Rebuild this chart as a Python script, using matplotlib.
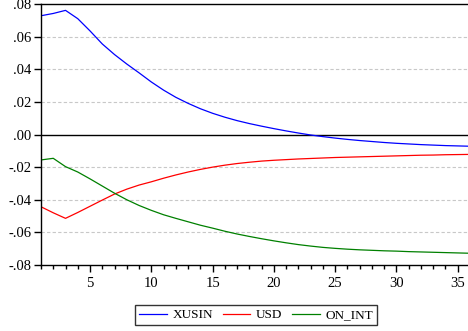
import numpy as np
import matplotlib
matplotlib.use("Agg")
import matplotlib.pyplot as plt
from matplotlib.ticker import FuncFormatter, MultipleLocator

# Impulse responses over 36 periods
periods = np.arange(1, 37)

xusin = [0.0728, 0.0742, 0.0761, 0.0710, 0.0635, 0.0555, 0.0490, 0.0432,
         0.0378, 0.0322, 0.0272, 0.0228, 0.0191, 0.0158, 0.0130, 0.0106,
         0.0085, 0.0067, 0.0051, 0.0036, 0.0022, 0.0009, -0.0003, -0.0013,
         -0.0022, -0.0030, -0.0037, -0.0043, -0.0049, -0.0054, -0.0058,
         -0.0062, -0.0065, -0.0068, -0.0070, -0.0072]

usd = [-0.0443, -0.0480, -0.0514, -0.0478, -0.0440, -0.0402, -0.0365,
       -0.0335, -0.0310, -0.0290, -0.0268, -0.0248, -0.0230, -0.0214,
       -0.0200, -0.0188, -0.0178, -0.0170, -0.0163, -0.0158, -0.0154,
       -0.0150, -0.0147, -0.0144, -0.0141, -0.0139, -0.0137, -0.0135,
       -0.0133, -0.0131, -0.0129, -0.0127, -0.0126, -0.0124, -0.0123,
       -0.0122]

on_int = [-0.0156, -0.0146, -0.0197, -0.0230, -0.0272, -0.0316, -0.0360,
          -0.0400, -0.0435, -0.0465, -0.0492, -0.0514, -0.0535, -0.0556,
          -0.0574, -0.0593, -0.0610, -0.0625, -0.0639, -0.0652, -0.0664,
          -0.0675, -0.0684, -0.0692, -0.0698, -0.0703, -0.0707, -0.0710,
          -0.0713, -0.0715, -0.0718, -0.0720, -0.0722, -0.0724, -0.0726,
          -0.0728]

series = [("XUSIN", xusin, "#0000ff"),
          ("USD", usd, "#ff0000"),
          ("ON_INT", on_int, "#008000")]

plt.rcParams["font.family"] = ["Liberation Serif", "DejaVu Serif"]

W, H = 468, 331
fig = plt.figure(figsize=(W / 100, H / 100), dpi=100)
ax = fig.add_axes([41 / W, (H - 265) / H, (470 - 41) / W, (265 - 4) / H])

for name, vals, color in series:
    ax.plot(periods, vals, color=color, lw=0.9, label=name)

ax.set_xlim(1, 36)
ax.set_ylim(-0.08, 0.08)
ax.yaxis.set_major_locator(MultipleLocator(0.02))
ax.xaxis.set_major_locator(MultipleLocator(5))
ax.xaxis.set_minor_locator(MultipleLocator(1))


def strip_zero(v, pos):
    s = f"{v:.2f}"
    if abs(v) < 1e-9:
        return ".00"
    return s.replace("0.", ".", 1)


ax.yaxis.set_major_formatter(FuncFormatter(strip_zero))

for y in [-0.06, -0.04, -0.02, 0.02, 0.04, 0.06]:
    ax.axhline(y, color="#c8c8c8", lw=0.8, ls=(0, (3, 2)), zorder=0)
ax.axhline(0, color="black", lw=1.0, zorder=1)

for side in ["left", "bottom", "top"]:
    ax.spines[side].set_linewidth(1.0)
ax.spines["right"].set_visible(False)

ax.tick_params(axis="both", which="major", direction="out", length=5,
               width=1, labelsize=10.5, colors="black")
ax.tick_params(axis="x", which="minor", direction="out", length=3, width=1)
ax.tick_params(axis="y", which="both", pad=2)

leg = fig.legend(loc="center", bbox_to_anchor=(256 / W, 1 - 315 / H), ncol=3,
                 frameon=True, fancybox=False, edgecolor="black", fontsize=9.5,
                 handlelength=2.1, columnspacing=0.75, handletextpad=0.4,
                 borderpad=0.3, borderaxespad=0)
leg.get_frame().set_linewidth(1.0)

fig.savefig("out.png", dpi=100)
